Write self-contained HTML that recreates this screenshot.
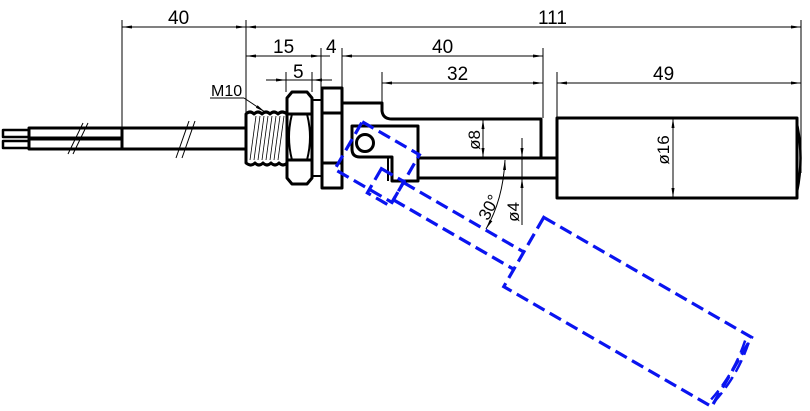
<!DOCTYPE html>
<html><head><meta charset="utf-8"><style>
html,body{margin:0;padding:0;background:#fff;}
svg{display:block;}
text{font-family:"Liberation Sans",sans-serif;font-size:19px;fill:#000;}
</style></head><body>
<svg width="810" height="411" viewBox="0 0 810 411" xmlns="http://www.w3.org/2000/svg">
<defs>
<marker id="a" markerWidth="10" markerHeight="6" refX="10" refY="3" orient="auto-start-reverse" markerUnits="userSpaceOnUse">
<path d="M0,1.5 L10,3 L0,4.5 Z" fill="#000"/></marker>
</defs>
<g stroke="#000" stroke-width="1" fill="none">
<line x1="122" y1="20" x2="122" y2="128"/>
<line x1="246" y1="20" x2="246" y2="113"/>
<line x1="801" y1="20" x2="801" y2="173"/>
<line x1="321" y1="48" x2="321" y2="92"/>
<line x1="342" y1="48" x2="342" y2="88"/>
<line x1="543" y1="48" x2="543" y2="118"/>
<line x1="286" y1="72" x2="286" y2="92"/>
<line x1="312" y1="72" x2="312" y2="92"/>
<line x1="382" y1="72" x2="382" y2="103"/>
<line x1="557" y1="72" x2="557" y2="118"/>
<line x1="122" y1="27" x2="246" y2="27" marker-start="url(#a)" marker-end="url(#a)"/>
<line x1="246" y1="27" x2="801" y2="27" marker-start="url(#a)" marker-end="url(#a)"/>
<line x1="246" y1="56" x2="321" y2="56" marker-start="url(#a)" marker-end="url(#a)"/>
<line x1="342" y1="56" x2="543" y2="56" marker-start="url(#a)" marker-end="url(#a)"/>
<line x1="321" y1="56" x2="330" y2="56"/>
<line x1="266" y1="80" x2="286" y2="80" marker-end="url(#a)"/>
<line x1="332" y1="80" x2="312" y2="80" marker-end="url(#a)"/>
<line x1="286" y1="80" x2="312" y2="80"/>
<line x1="382" y1="83" x2="543" y2="83" marker-start="url(#a)" marker-end="url(#a)"/>
<line x1="557" y1="83" x2="801" y2="83" marker-start="url(#a)" marker-end="url(#a)"/>
<line x1="483" y1="119" x2="483" y2="158" marker-start="url(#a)" marker-end="url(#a)"/>
<line x1="522" y1="138" x2="522" y2="158" marker-end="url(#a)"/>
<line x1="522" y1="225" x2="522" y2="178" marker-end="url(#a)"/>
<line x1="522" y1="158" x2="522" y2="178"/>
<line x1="673" y1="118" x2="673" y2="198" marker-start="url(#a)" marker-end="url(#a)"/>
<path d="M505,160 Q503,200 486,229" marker-start="url(#a)" marker-end="url(#a)"/>
<line x1="210" y1="98" x2="244" y2="98"/>
<line x1="244" y1="98" x2="265" y2="112" marker-end="url(#a)"/>
<line x1="68" y1="154" x2="83" y2="123"/>
<line x1="73" y1="154" x2="88" y2="123"/>
<line x1="176" y1="158" x2="189" y2="121"/>
<line x1="182" y1="158" x2="195" y2="121"/>
<g stroke-width="0.8">
<line x1="250" y1="160" x2="256" y2="116"/><line x1="254" y1="160" x2="260" y2="116"/>
<line x1="258" y1="160" x2="264" y2="116"/><line x1="262" y1="160" x2="268" y2="116"/>
<line x1="266" y1="160" x2="272" y2="116"/><line x1="270" y1="160" x2="276" y2="116"/>
<line x1="274" y1="160" x2="280" y2="116"/><line x1="278" y1="160" x2="284" y2="116"/>
</g>
</g>
<g stroke="#000" stroke-width="3" fill="none" stroke-linejoin="round">
<rect x="3" y="130" width="26" height="7" stroke-width="2.5"/>
<rect x="3" y="141" width="26" height="7" stroke-width="2.5"/>
<rect x="29" y="128" width="217" height="21"/>
<line x1="122" y1="128" x2="122" y2="149"/>
<line x1="29" y1="138.5" x2="122" y2="138.5" stroke-width="4"/>
<path d="M246,114 Q250,110 254,114 Q258,110 262,114 Q266,110 270,114 Q274,110 278,114 Q282,110 287,114 L287,163 Q283,167 279,163 Q275,167 271,163 Q267,167 263,163 Q259,167 255,163 Q251,167 246,163 Z"/>
<path d="M292,92 L307,92 L312,98 L312,178 L307,184 L292,184 L287,178 L287,98 Z"/>
<line x1="287" y1="114" x2="312" y2="114"/>
<line x1="287" y1="160" x2="312" y2="160"/>
<path d="M292,114 Q286,137 292,160 M307,114 Q313,137 307,160" stroke-width="2"/>
<rect x="312" y="100" width="10" height="76" stroke-width="2"/>
<rect x="322" y="88" width="20" height="100"/>
<line x1="322" y1="113" x2="342" y2="113"/>
<line x1="322" y1="163" x2="342" y2="163"/>
<path d="M342,103 L382,103 L382,111 Q383,119 392,119 L541,119 L541,158"/>
<line x1="418" y1="158" x2="557" y2="158"/>
<line x1="418" y1="178" x2="557" y2="178"/>
<rect x="557" y="118" width="240" height="80"/>
<path d="M797,124 Q804,158 797,192" stroke-width="2.5"/>
<path d="M352,126 L418,126 L418,181 L392,181 L392,157 L360,157 Q352,157 352,149 Z"/>
<line x1="388" y1="157" x2="388" y2="181" stroke-width="2"/>
<circle cx="365" cy="143" r="8.5"/>
</g>
<g transform="rotate(30 365 143)" stroke="#0a14f0" stroke-width="3.2" fill="none" stroke-dasharray="13,6">
<rect x="352" y="126" width="66" height="55"/>
<line x1="418" y1="158" x2="557" y2="158"/>
<line x1="418" y1="178" x2="557" y2="178"/>
<rect x="392" y="157" width="26" height="28"/>
<rect x="557" y="118" width="240" height="80"/>
<path d="M797,124 Q804,158 797,192 M793,124 Q800,158 793,192" stroke-width="2.5"/>
</g>
<g>
<text x="168" y="24">40</text>
<text x="538" y="24">111</text>
<text x="273" y="53">15</text>
<text x="326" y="53">4</text>
<text x="432" y="53">40</text>
<text x="293" y="78">5</text>
<text x="447" y="80">32</text>
<text x="653" y="80">49</text>
<text x="211" y="96" style="font-size:16px">M10</text>
<text transform="translate(480,140) rotate(-90)" text-anchor="middle" style="font-size:17px">ø8</text>
<text transform="translate(519,212) rotate(-90)" text-anchor="middle" style="font-size:17px">ø4</text>
<text transform="translate(669,150) rotate(-90)" text-anchor="middle" style="font-size:17px">ø16</text>
<text transform="translate(494,210) rotate(-62)" text-anchor="middle" style="font-size:17px">30°</text>
</g>
</svg>
</body></html>
